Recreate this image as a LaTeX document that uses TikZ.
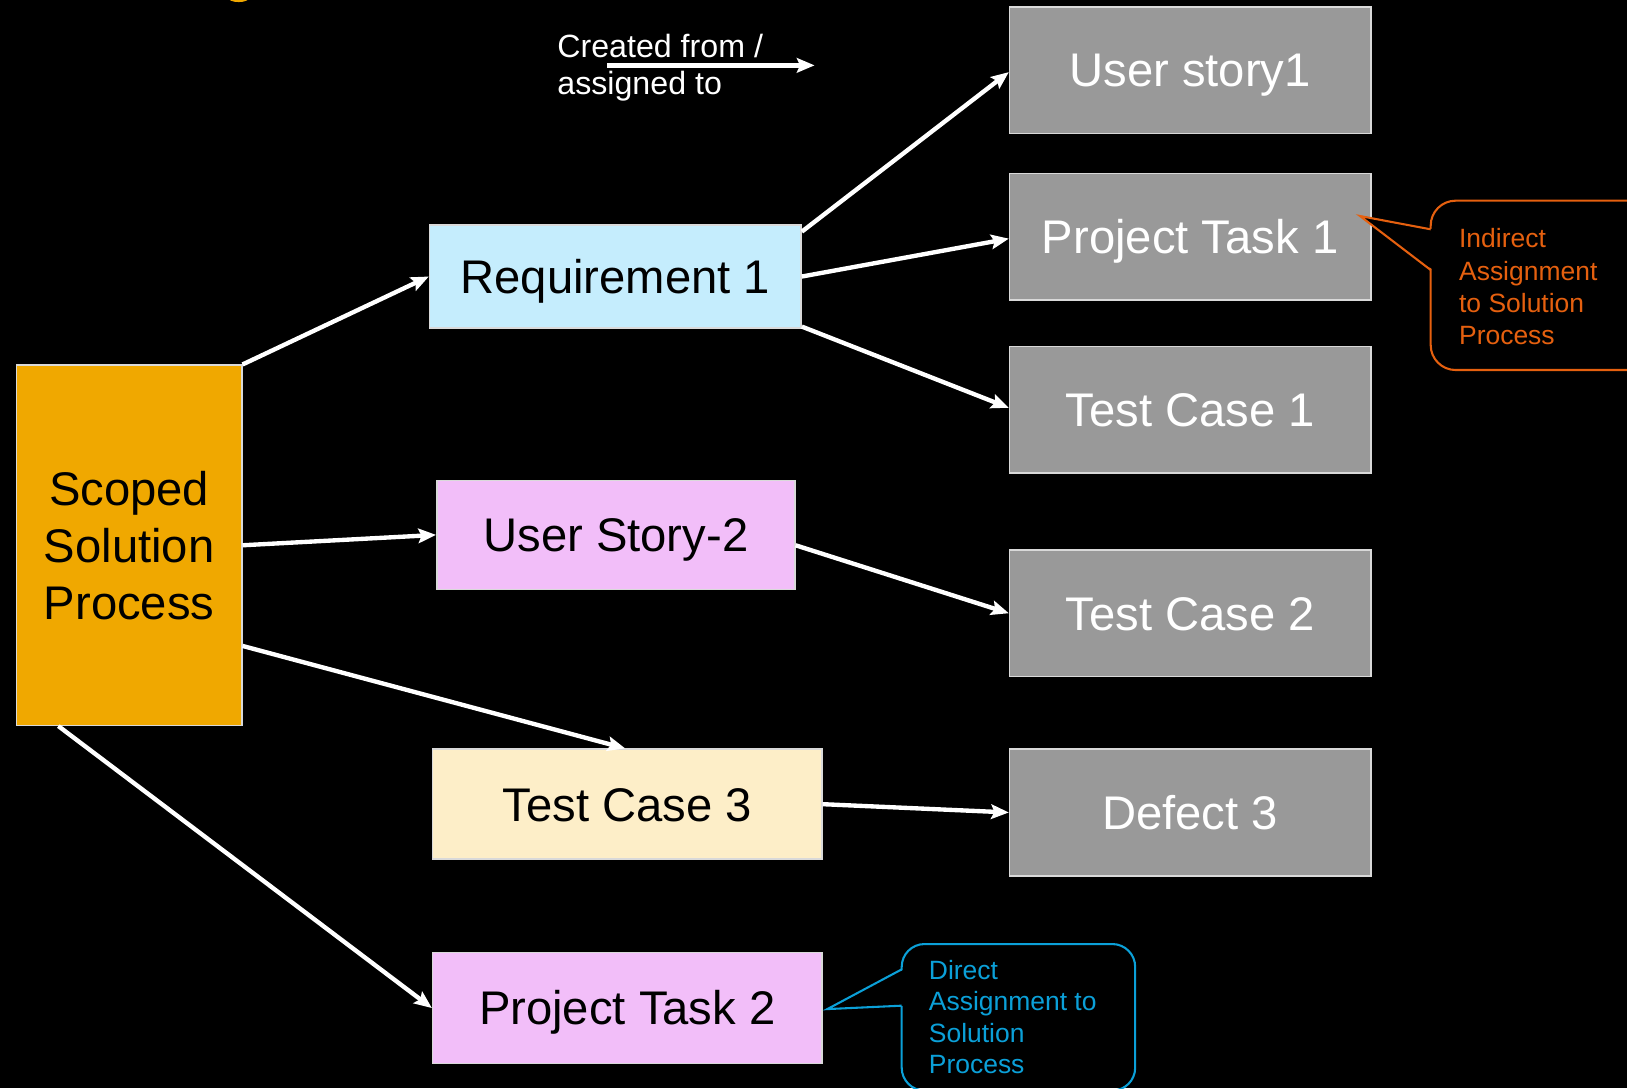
\documentclass[tikz,border=0pt]{standalone}
\usepackage{fontspec}
\setmainfont{Liberation Sans}
\usetikzlibrary{arrows.meta}
\definecolor{boxgray}{HTML}{999999}
\definecolor{edgegray}{HTML}{D9D9D9}
\definecolor{scopeorange}{HTML}{F0A800}
\definecolor{reqblue}{HTML}{C5EDFD}
\definecolor{storypink}{HTML}{F2BEF9}
\definecolor{testcream}{HTML}{FDEEC8}
\definecolor{calloutorange}{HTML}{E5600F}
\definecolor{calloutblue}{HTML}{0BA0D8}
\tikzset{
  box/.style={draw=edgegray, line width=1.5pt, inner sep=0pt, align=center,
    font=\fontsize{45.5}{55}\selectfont},
  onebox/.style={box, text height=32.6pt, text depth=0pt},
  graybox/.style={onebox, fill=boxgray, text=white, minimum width=348pt, minimum height=122pt},
  conn/.style={draw=white, line width=4.2pt, -{Stealth[length=17pt,width=14pt,inset=3pt]}},
  legendtext/.style={anchor=base west, inner sep=0pt, text=white, font=\fontsize{31}{36}\selectfont},
  otext/.style={anchor=base west, inner sep=0pt, text=calloutorange, font=\fontsize{25.5}{31}\selectfont},
  btext/.style={anchor=base west, inner sep=0pt, text=calloutblue, font=\fontsize{25.5}{31}\selectfont},
}
\begin{document}
\begin{tikzpicture}[x=1pt,y=-1pt]
\useasboundingbox[fill=black] (0,0) rectangle (1568,1048.6);
% cut-off title fragment at the top
\fill[scopeorange] (230,-2) ellipse [x radius=10, y radius=4];

% right column
\node[graybox] (us1) at (1147,67.5) {User story1};
\node[graybox] (pt1) at (1147,228) {Project Task 1};
\node[graybox] (tc1) at (1147,395) {Test Case 1};
\node[graybox] (tc2) at (1147,591) {Test Case 2};
\node[graybox] (d3)  at (1147,783) {Defect 3};

% middle column
\node[onebox, fill=reqblue, minimum width=358pt, minimum height=99pt] (req) at (593,266.5) {Requirement 1};
\node[onebox, fill=storypink, minimum width=345pt, minimum height=105pt] (us2) at (593.5,515.5) {User Story-2};
\node[onebox, fill=testcream, minimum width=375pt, minimum height=106pt] (tc3) at (604.5,775) {Test Case 3};
\node[onebox, fill=storypink, minimum width=375pt, minimum height=107pt] (pt2) at (604.5,971.5) {Project Task 2};

% left
\node[box, fill=scopeorange, minimum width=217pt, minimum height=347pt] (scoped) at (124.5,525.5) {\rule{0pt}{3pt}Scoped\\Solution\\Process};

% connectors
\draw[conn] (scoped.north east) -- (req.west);
\draw[conn] ([yshift=-7pt]req.north east) -- ([yshift=-2pt]us1.west);
\draw[conn] (req.east) -- ([yshift=-2pt]pt1.west);
\draw[conn] ([yshift=2pt]req.south east) -- ([yshift=2pt]tc1.west);
\draw[conn] (scoped.east) -- (us2.west);
\draw[conn] ([yshift=-10pt]us2.east) -- (tc2.west);
\draw[conn] ([yshift=-97pt]scoped.east) -- ([xshift=-2pt]tc3.north);
\draw[conn] (tc3.east) -- (d3.west);
\draw[conn] ([xshift=41pt]scoped.south west) -- (pt2.west);

% legend
\node[legendtext] (lg1) at (537,55) {Created from /};
\node[legendtext] (lg2) at (537,91) {assigned to};
\coordinate (la) at (585,63);
\coordinate (lb) at (785,63);
\draw[conn] (la) -- (lb);

% orange callout
\draw[calloutorange, line width=2pt, rounded corners=24pt] (1378.8,193.4) rectangle (1680,356.6);
\fill[black] (1381.5,221) -- (1310.7,208.2) -- (1381.5,260.2) -- cycle;
\draw[calloutorange, line width=2pt, line join=miter] (1378.8,221) -- (1310.7,208.2) -- (1378.8,260.2);
\node[otext] (o1) at (1406,239) {Indirect};
\node[otext] (o2) at (1406,270) {Assignment};
\node[otext] (o3) at (1406,301) {to Solution};
\node[otext] (o4) at (1406,332) {Process};

% blue callout
\draw[calloutblue, line width=2pt, rounded corners=22pt] (869,909.8) rectangle (1094,1051);
\fill[black] (871.5,934.2) -- (797.3,972.5) -- (871.5,969.2) -- cycle;
\draw[calloutblue, line width=2pt, line join=miter] (869,934.2) -- (797.3,972.5) -- (869,969.2);
\node[btext] (b1) at (895,943.5) {Direct};
\node[btext] (b2) at (895,974) {Assignment to};
\node[btext] (b3) at (895,1004.5) {Solution};
\node[btext] (b4) at (895,1035) {Process};
\end{tikzpicture}
\end{document}
